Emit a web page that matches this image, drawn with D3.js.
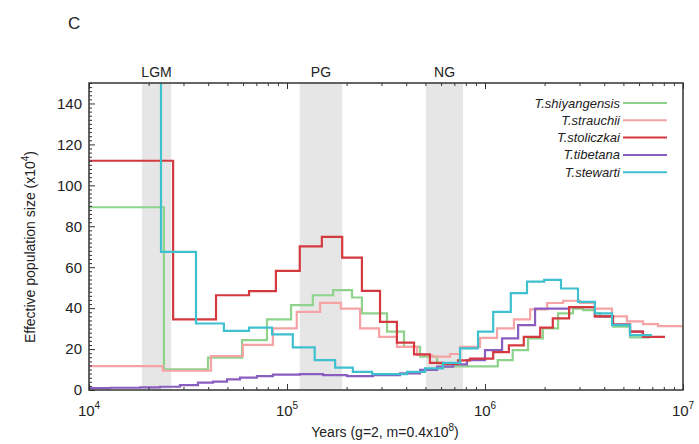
<!DOCTYPE html>
<html>
<head>
<meta charset="utf-8">
<script src="https://cdn.jsdelivr.net/npm/d3@7"></script>
<style>
  body { margin: 0; background: #fff; }
  text { font-family: "Liberation Sans", Arial, sans-serif; fill: #222; }
</style>
</head>
<body>
<div id="chart"></div>
<script>
// PSMC curves, years vs Ne (x10^4)
var species = ["T.shiyangensis", "T.strauchii", "T.stoliczkai", "T.tibetana", "T.stewarti"];

var shiyangensisYears = [1e4, 23.9e3, 39.9e3, 59.3e3, 79.2e3, 104.8e3, 135e3, 171e3, 213e3, 239e3, 320e3, 390e3, 470e3, 573e3, 607e3, 1.16e6, 1.38e6, 1.65e6, 1.96e6, 2.34e6, 2.78e6, 3.13e6, 3.59e6, 3.81e6, 4.43e6, 5.40e6, 6.81e6];
var shiyangensisNe = [89.3, 10.1, 15.8, 24.4, 34.5, 41.5, 46.3, 48.8, 45.2, 37.4, 28.5, 21.1, 16.3, 13, 11.5, 14.6, 19.5, 25.2, 30.1, 37.4, 39.8, 39, 37.5, 35.8, 30.9, 25.7];

var strauchiiYears = [1e4, 23.6e3, 41.3e3, 59.9e3, 84.9e3, 112e3, 147e3, 187e3, 234e3, 292e3, 359e3, 454e3, 540e3, 666e3, 748e3, 944e3, 1.15e6, 1.40e6, 1.69e6, 2.06e6, 2.48e6, 3.02e6, 3.59e6, 4.38e6, 5.21e6, 6.28e6, 7.48e6, 9.89e6];
var strauchiiNe = [11.7, 9.4, 16.6, 22, 30.1, 38.2, 42.6, 39.8, 30.1, 26, 21.1, 17.1, 16.3, 17.6, 21.1, 25.5, 30.1, 34.5, 39.4, 42.5, 43.6, 42.5, 39.8, 36, 33.5, 32.2, 31.2];

var stoliczkaiYears = [1e4, 26.6e3, 43.8e3, 64.3e3, 87.9e3, 116e3, 150e3, 190e3, 239e3, 295e3, 359e3, 438e3, 527e3, 614e3, 731e3, 840e3, 1.10e6, 1.32e6, 1.57e6, 1.90e6, 2.20e6, 2.66e6, 3.59e6, 4.43e6, 5.40e6, 6.28e6, 8.11e6];
var stoliczkaiNe = [112, 34.5, 46.3, 48.3, 58.2, 70.2, 74.8, 64.7, 48.4, 33.3, 23.1, 17.4, 13.3, 12.7, 14.5, 15.3, 18.5, 21.8, 26, 30.5, 35, 40.5, 36, 32, 28.5, 26];

var tibetanaYears = [1e4, 12.8e3, 18.1e3, 22.8e3, 28.8e3, 35.5e3, 42.3e3, 49.8e3, 57.9e3, 70.5e3, 84.9e3, 116e3, 152e3, 201e3, 272e3, 372e3, 470e3, 573e3, 689e3, 811e3, 1.0e6, 1.22e6, 1.47e6, 1.79e6, 2.66e6, 3.59e6, 4.43e6, 5.40e6, 6.28e6, 7.0e6];
var tibetanaNe = [0.9, 1.1, 1.3, 1.6, 2.4, 3.6, 4.1, 5.2, 6, 6.8, 7.5, 7.8, 7.3, 6.8, 7.3, 8.1, 9.8, 11.4, 12.5, 14.6, 19.5, 25.2, 31.7, 39.8, 40.5, 36, 32, 28.5, 26];

var stewartiYears = [1e4, 23.1e3, 34.7e3, 48.0e3, 64.3e3, 84.0e3, 107e3, 138e3, 175e3, 215e3, 269e3, 404e3, 498e3, 614e3, 748e3, 922e3, 1.10e6, 1.35e6, 1.63e6, 1.99e6, 2.42e6, 2.95e6, 3.59e6, 4.38e6, 5.40e6, 6.97e6];
var stewartiNe = [300, 67.5, 32.5, 28.9, 30.5, 27.2, 20.8, 14.6, 10.9, 8.9, 7.8, 8.9, 10.6, 13.3, 20.3, 28.5, 38.2, 47.3, 53, 53.8, 49.6, 43.1, 37.4, 31.7, 26.8];

// shaded climate periods
var periods = ["LGM", "PG", "NG"];
var periodStart = [18.5e3, 116e3, 504e3];
var periodEnd = [26e3, 190e3, 774e3];

var yTicks = [0, 20, 40, 60, 80, 100, 120, 140];
var xDecades = [1e4, 1e5, 1e6, 1e7];
var xDecadeExp = ["4", "5", "6", "7"];

var seriesYears = [shiyangensisYears, strauchiiYears, stoliczkaiYears, tibetanaYears, stewartiYears];
var seriesNe = [shiyangensisNe, strauchiiNe, stoliczkaiNe, tibetanaNe, stewartiNe];

var colors = {
    "T.shiyangensis": "#8fd28c",
    "T.strauchii": "#f6a3a6",
    "T.stoliczkai": "#d4393f",
    "T.tibetana": "#8a5dc0",
    "T.stewarti": "#3ec0cf"
};
// draw purple under the red so the overlapping tail is hidden
var drawOrder = [0, 1, 3, 2, 4];

var svgWidth = 699;
var svgHeight = 444;
var margin = { top: 83, right: 16, bottom: 54, left: 89 };
var width = svgWidth - margin.left - margin.right;
var height = svgHeight - margin.top - margin.bottom;

var svg = d3.select("#chart")
    .append("svg")
    .attr("width", svgWidth)
    .attr("height", svgHeight);

var chart = svg.append("g")
    .attr("transform", `translate(${margin.left}, ${margin.top})`);

var xScale = d3.scaleLog().domain([1e4, 1e7]).range([0, width]);
var yScale = d3.scaleLinear().domain([0, 150]).range([height, 0]);

svg.append("text")
    .attr("x", 68).attr("y", 29)
    .style("font-size", "17px")
    .text("C");

// bands
chart.selectAll(".band")
    .data(periods)
    .enter()
    .append("rect")
    .attr("x", (d, i) => xScale(periodStart[i]))
    .attr("width", (d, i) => xScale(periodEnd[i]) - xScale(periodStart[i]))
    .attr("y", 0)
    .attr("height", height)
    .attr("fill", "#e7e6e6");

chart.selectAll(".bandlabel")
    .data(periods)
    .enter()
    .append("text")
    .attr("x", (d, i) => (xScale(periodStart[i]) + xScale(periodEnd[i])) / 2)
    .attr("y", -6)
    .attr("text-anchor", "middle")
    .style("font-size", "14px")
    .text(d => d);

chart.append("clipPath").attr("id", "clip")
    .append("rect").attr("width", width).attr("height", height);

var line = d3.line()
    .x(d => xScale(d[0]))
    .y(d => yScale(d[1]))
    .curve(d3.curveStepAfter);

drawOrder.forEach(function (k) {
    var yrs = seriesYears[k];
    var ne = seriesNe[k];
    var pts = ne.map((v, i) => [yrs[i], v]);
    pts.push([yrs[yrs.length - 1], ne[ne.length - 1]]);
    chart.append("path")
        .datum(pts)
        .attr("clip-path", "url(#clip)")
        .attr("fill", "none")
        .attr("stroke", colors[species[k]])
        .attr("stroke-width", 2.2)
        .attr("d", line);
});

// minor log ticks
var minorX = [];
xDecades.slice(0, 3).forEach(function (d) {
    for (var m = 2; m <= 9; m++) minorX.push(d * m);
});
var minorY = d3.range(0, 151, 2).filter(v => v % 20 !== 0);

chart.append("g")
    .attr("transform", `translate(0, ${height})`)
    .call(d3.axisBottom(xScale).tickValues(minorX).tickSize(-3).tickFormat(""));
chart.append("g")
    .attr("transform", `translate(0, ${height})`)
    .call(d3.axisBottom(xScale).tickValues(xDecades).tickSize(-6).tickFormat(""));
chart.append("g")
    .call(d3.axisTop(xScale).tickValues(minorX).tickSize(-3).tickFormat(""));
chart.append("g")
    .call(d3.axisTop(xScale).tickValues(xDecades).tickSize(-6).tickFormat(""));
chart.append("g")
    .call(d3.axisLeft(yScale).tickValues(minorY).tickSize(-3).tickFormat(""));
chart.append("g")
    .attr("class", "yaxis")
    .call(d3.axisLeft(yScale).tickValues(yTicks).tickSize(-6).tickPadding(7));

chart.selectAll(".domain").remove();
chart.selectAll(".tick line").attr("stroke", "#333").attr("stroke-width", 1);
chart.selectAll(".yaxis text")
    .attr("fill", "#222")
    .style("font-size", "15px")
    .style("font-family", "'Liberation Sans', Arial, sans-serif");

chart.append("rect")
    .attr("width", width)
    .attr("height", height)
    .attr("fill", "none")
    .attr("stroke", "#333")
    .attr("stroke-width", 1.5);

// x tick labels 10^n
var xl = chart.selectAll(".xlab")
    .data(xDecades)
    .enter()
    .append("text")
    .attr("x", d => xScale(d))
    .attr("y", height + 26)
    .attr("text-anchor", "middle")
    .style("font-size", "15px");
xl.append("tspan").text("10");
xl.append("tspan")
    .attr("dy", -7)
    .style("font-size", "10px")
    .text((d, i) => xDecadeExp[i]);

var xt = chart.append("text")
    .attr("x", 296)
    .attr("y", height + 47)
    .attr("text-anchor", "middle")
    .style("font-size", "14px");
xt.append("tspan").text("Years (g=2, m=0.4x10");
xt.append("tspan").attr("dy", -6).style("font-size", "10px").text("8");
xt.append("tspan").attr("dy", 6).text(")");

var yt = svg.append("text")
    .attr("transform", "rotate(-90)")
    .attr("x", -247)
    .attr("y", 35)
    .attr("text-anchor", "middle")
    .style("font-size", "14px");
yt.append("tspan").text("Effective population size (x10");
yt.append("tspan").attr("dy", -6).style("font-size", "10px").text("4");
yt.append("tspan").attr("dy", 6).text(")");

// legend
var legend = chart.selectAll(".legend")
    .data(species)
    .enter()
    .append("g")
    .attr("transform", (d, i) => `translate(0, ${20 + i * 17.3})`);
legend.append("text")
    .attr("x", 531)
    .attr("y", 4.5)
    .attr("text-anchor", "end")
    .style("font-size", "13px")
    .style("font-style", "italic")
    .attr("fill", "#444")
    .text(d => d);
legend.append("line")
    .attr("x1", 534)
    .attr("x2", 578)
    .attr("stroke", d => colors[d])
    .attr("stroke-width", 2);
</script>
</body>
</html>
